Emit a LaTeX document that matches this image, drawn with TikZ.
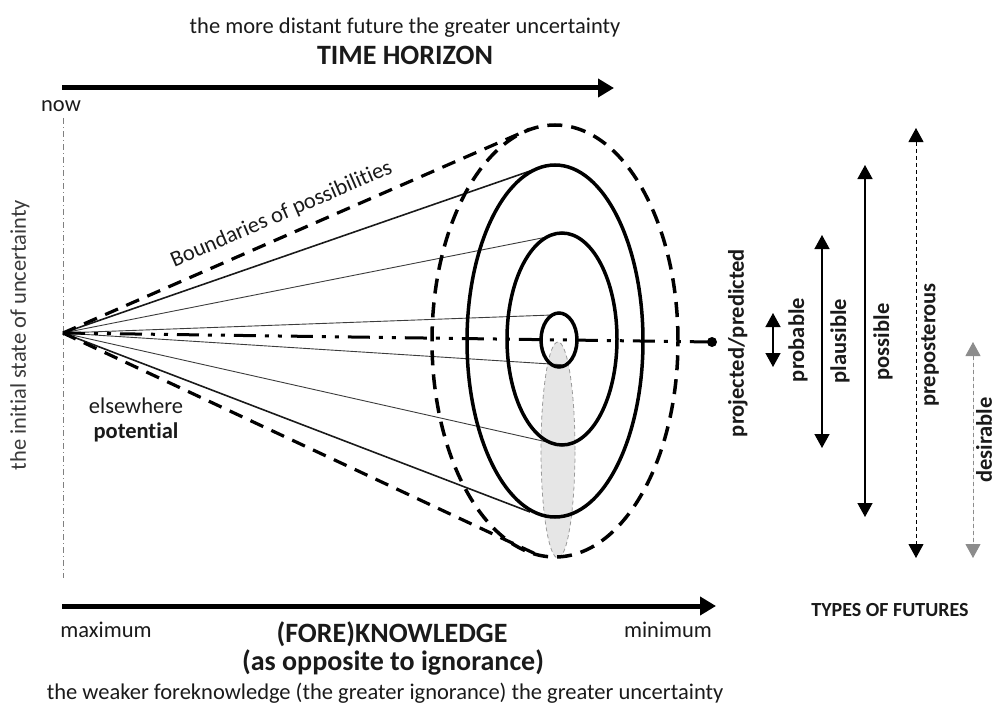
\documentclass[tikz,border=0pt]{standalone}
\usepackage{fontspec}
\setmainfont{Carlito}[Ligatures=NoCommon]
\usetikzlibrary{arrows.meta}
\definecolor{ink}{HTML}{1A1A1A}
\definecolor{softink}{HTML}{3A3A3A}
\definecolor{shadefill}{HTML}{E6E6E6}
\definecolor{shadeline}{HTML}{9A9A9A}
\definecolor{desgray}{HTML}{8C8C8C}
\begin{document}
\begin{tikzpicture}[x=1pt,y=-1pt,
  txt/.style={inner sep=0pt, text=ink, font=\fontsize{22.5}{24}\selectfont},
  btxt/.style={inner sep=0pt, text=ink, font=\fontsize{22.5}{24}\selectfont\bfseries},
  bigtxt/.style={inner sep=0pt, text=ink, font=\fontsize{28}{30}\selectfont\bfseries},
  axisarrow/.style={line width=5pt, -{Triangle[length=16pt,width=18pt]}},
  ring/.style={line width=3.5pt},
  dashring/.style={line width=3.5pt, dash pattern=on 15pt off 9pt},
  thinray/.style={line width=0.9pt, draw=ink!85},
  boldray/.style={line width=1.6pt, draw=ink},
  futarrow/.style={line width=1.4pt, {Triangle[length=14pt,width=15pt]}-{Triangle[length=14pt,width=15pt]}},
  dfutarrow/.style={line width=1pt, dash pattern=on 4pt off 3pt, {Triangle[length=14pt,width=15pt]}-{Triangle[length=14pt,width=15pt]}},
]
\useasboundingbox (0,0) rectangle (997,709);

% named points
\coordinate (apex) at (63,333);
\coordinate (nowtop) at (63,118);
\coordinate (nowbot) at (63,578);
\coordinate (dot) at (712,342);
\coordinate (ubnd) at (530,129);
\coordinate (lbnd) at (540,556);
\coordinate (r1) at (533,170);
\coordinate (r2) at (547,237);
\coordinate (r3) at (552,315);
\coordinate (r4) at (566,365);
\coordinate (r5) at (556,444);
\coordinate (r6) at (530,512);

% shaded desirable ellipse
\fill[shadefill] (558,450) ellipse [x radius=17pt, y radius=108pt];
\draw[shadeline, line width=0.8pt, dash pattern=on 4pt off 3pt] (558,450) ellipse [x radius=17pt, y radius=108pt];

% now line
\draw[gray, line width=0.7pt, dash pattern=on 6pt off 3pt on 1pt off 3pt] (nowtop) -- (nowbot);

% rays
\draw[boldray] (apex) -- (r1);
\draw[thinray] (apex) -- (r2);
\draw[thinray] (apex) -- (r3);
\draw[thinray] (apex) -- (r4);
\draw[thinray] (apex) -- (r5);
\draw[boldray] (apex) -- (r6);
\draw[line width=3.2pt, dash pattern=on 14pt off 9pt] (apex) -- (ubnd);
\draw[line width=3.2pt, dash pattern=on 14pt off 9pt] (apex) -- (lbnd);

% projection line
\draw[line width=3pt, dash pattern=on 22pt off 9pt on 4pt off 9pt on 4pt off 9pt] (apex) -- (dot);
\fill (dot) circle (5pt);

% rings
\draw[dashring] (555,341) ellipse [x radius=123pt, y radius=216pt];
\draw[ring] (555,341) ellipse [x radius=88pt, y radius=176pt];
\draw[ring] (562,339) ellipse [x radius=55pt, y radius=106pt];
\draw[ring] (559,340) ellipse [x radius=18pt, y radius=27pt];

% axes
\coordinate (ta0) at (62,88);
\coordinate (ta1) at (614,88);
\draw[axisarrow] (ta0) -- (ta1);
\coordinate (ba0) at (62,606);
\coordinate (ba1) at (716,606);
\draw[axisarrow] (ba0) -- (ba1);

% types of futures arrows
\coordinate (pb0) at (773,313); \coordinate (pb1) at (773,367);
\coordinate (pl0) at (822,235); \coordinate (pl1) at (822,448);
\coordinate (ps0) at (865,165); \coordinate (ps1) at (865,517);
\coordinate (pp0) at (916,128); \coordinate (pp1) at (916,558);
\coordinate (de0) at (973,342); \coordinate (de1) at (973,558);
\draw[futarrow] (pb0) -- (pb1);
\draw[futarrow] (pl0) -- (pl1);
\draw[futarrow] (ps0) -- (ps1);
\draw[dfutarrow] (pp0) -- (pp1);
\draw[dfutarrow, draw=desgray, fill=desgray] (de0) -- (de1);

% texts
\node[txt] (t1) at (405,28) {the more distant future the greater uncertainty};
\node[bigtxt] (t2) at (405,55) {TIME HORIZON};
\node[txt] (now) at (61,106) {now};
\node[txt, text=softink, rotate=90] (init) at (20,335) {the initial state of uncertainty};
\node[txt, rotate=23.4, anchor=base] (bnd) at (284,220) {Boundaries of possibilities};
\node[txt] (else) at (136,406) {elsewhere};
\node[btxt] (pot) at (136,432) {potential};
\node[btxt, rotate=90] (proj) at (738,343) {projected/predicted};
\node[btxt, rotate=90] (lprob) at (798,340) {probable};
\node[btxt, rotate=90] (lplau) at (840,341) {plausible};
\node[btxt, rotate=90] (lposs) at (883,342) {possible};
\node[btxt, rotate=90] (lprep) at (930,345) {preposterous};
\node[btxt, rotate=90] (ldes) at (984,440) {desirable};
\node[txt] (max) at (106,630) {maximum};
\node[txt] (min) at (668,630) {minimum};
\node[bigtxt] (fk) at (392,634) {(FORE)KNOWLEDGE};
\node[bigtxt] (opp) at (393,662) {(as opposite to ignorance)};
\node[txt] (weak) at (385,693) {the weaker foreknowledge (the greater ignorance) the greater uncertainty};
\node[inner sep=0pt, text=ink, font=\fontsize{20}{22}\selectfont\bfseries] (types) at (890,610) {TYPES OF FUTURES};
\end{tikzpicture}
\end{document}
